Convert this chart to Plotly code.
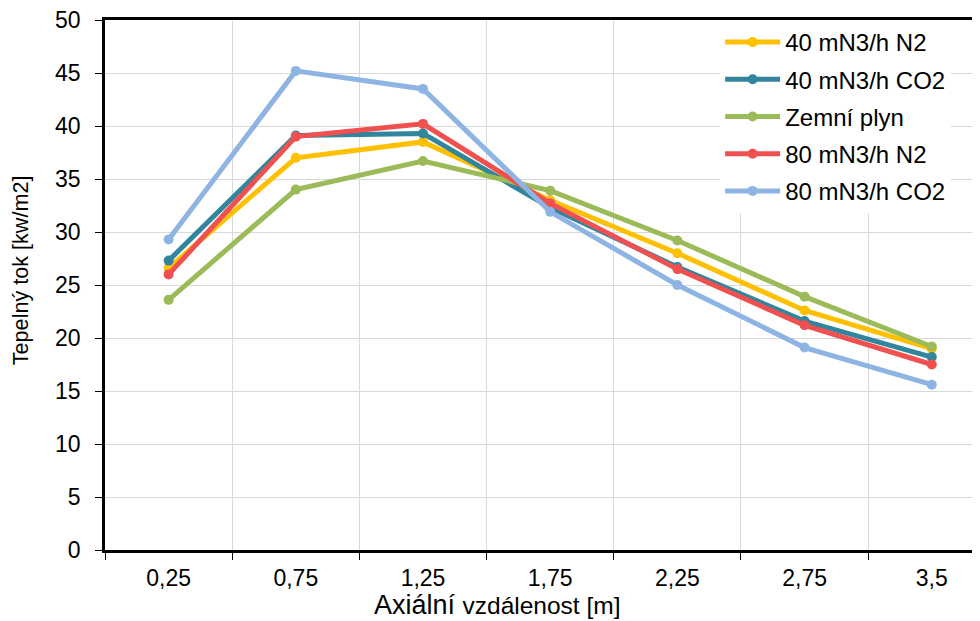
import plotly.graph_objects as go

categories = ["0,25", "0,75", "1,25", "1,75", "2,25", "2,75", "3,5"]
series_names = ["40 mN3/h N2", "40 mN3/h CO2", "Zemní plyn", "80 mN3/h N2", "80 mN3/h CO2"]
n2_40 = [26.6, 37.0, 38.5, 33.0, 28.0, 22.6, 19.0]
co2_40 = [27.3, 39.1, 39.3, 32.3, 26.7, 21.6, 18.2]
zemni = [23.6, 34.0, 36.7, 33.9, 29.2, 23.9, 19.2]
n2_80 = [26.0, 39.0, 40.2, 32.7, 26.5, 21.2, 17.5]
co2_80 = [29.3, 45.2, 43.5, 31.9, 25.0, 19.1, 15.6]
colors = ["#FFC000", "#31859C", "#9BBB59", "#F0504F", "#8EB4E3"]
x_title = "Axiální <span style='font-size:24.5px'>vzdálenost [m]</span>"
y_title = "Tepelný tok [kw/m2]"

fig = go.Figure()
for i, (name, vals) in enumerate(zip(series_names, [n2_40, co2_40, zemni, n2_80, co2_80])):
    fig.add_trace(go.Scatter(
        x=categories, y=vals, name=name, mode="lines+markers",
        line=dict(color=colors[i], width=5),
        marker=dict(color=colors[i], size=10),
        legendgroup=f"g{i}",
    ))

font_family = "Liberation Sans, Arial, sans-serif"
fig.update_layout(
    width=972, height=613,
    margin=dict(l=97, r=0, t=12, b=71, autoexpand=False),
    paper_bgcolor="white", plot_bgcolor="white",
    font=dict(family=font_family, color="black", size=23),
    showlegend=True,
    legend=dict(
        x=0.703, y=1.0, xanchor="left", yanchor="top",
        bgcolor="white", borderwidth=0,
        font=dict(size=24, family=font_family),
        tracegroupgap=3, itemwidth=55,
    ),
    xaxis=dict(
        type="category", range=[-0.5, 6.379], automargin=False,
        tickson="boundaries", ticks="outside", ticklen=7, tickcolor="black", tickwidth=1,
        showgrid=True, gridcolor="#D9D9D9", gridwidth=1,
        showline=True, linecolor="black", linewidth=2.5, mirror=True,
        tickfont=dict(size=23), ticklabelstandoff=6, ticklabeloverflow="allow",
    ),
    yaxis=dict(
        range=[0, 50], dtick=5, ticks="outside", ticklen=7, tickcolor="black", tickwidth=1,
        showgrid=True, gridcolor="#D9D9D9", gridwidth=1,
        showline=True, linecolor="black", linewidth=2.5, automargin=False,
        zeroline=False,
        tickfont=dict(size=23), ticklabelstandoff=10, ticklabeloverflow="allow",
    ),
    annotations=[
        dict(text=x_title, xref="paper", yref="paper", x=0.448, y=-0.1038,
             xanchor="center", yanchor="middle", showarrow=False,
             font=dict(size=27, family=font_family, color="black")),
        dict(text=y_title, xref="paper", yref="paper", x=-0.0971, y=0.528,
             xanchor="center", yanchor="middle", showarrow=False, textangle=-90,
             font=dict(size=21.6, family=font_family, color="black")),
    ],
)

fig.write_html("out.html")
